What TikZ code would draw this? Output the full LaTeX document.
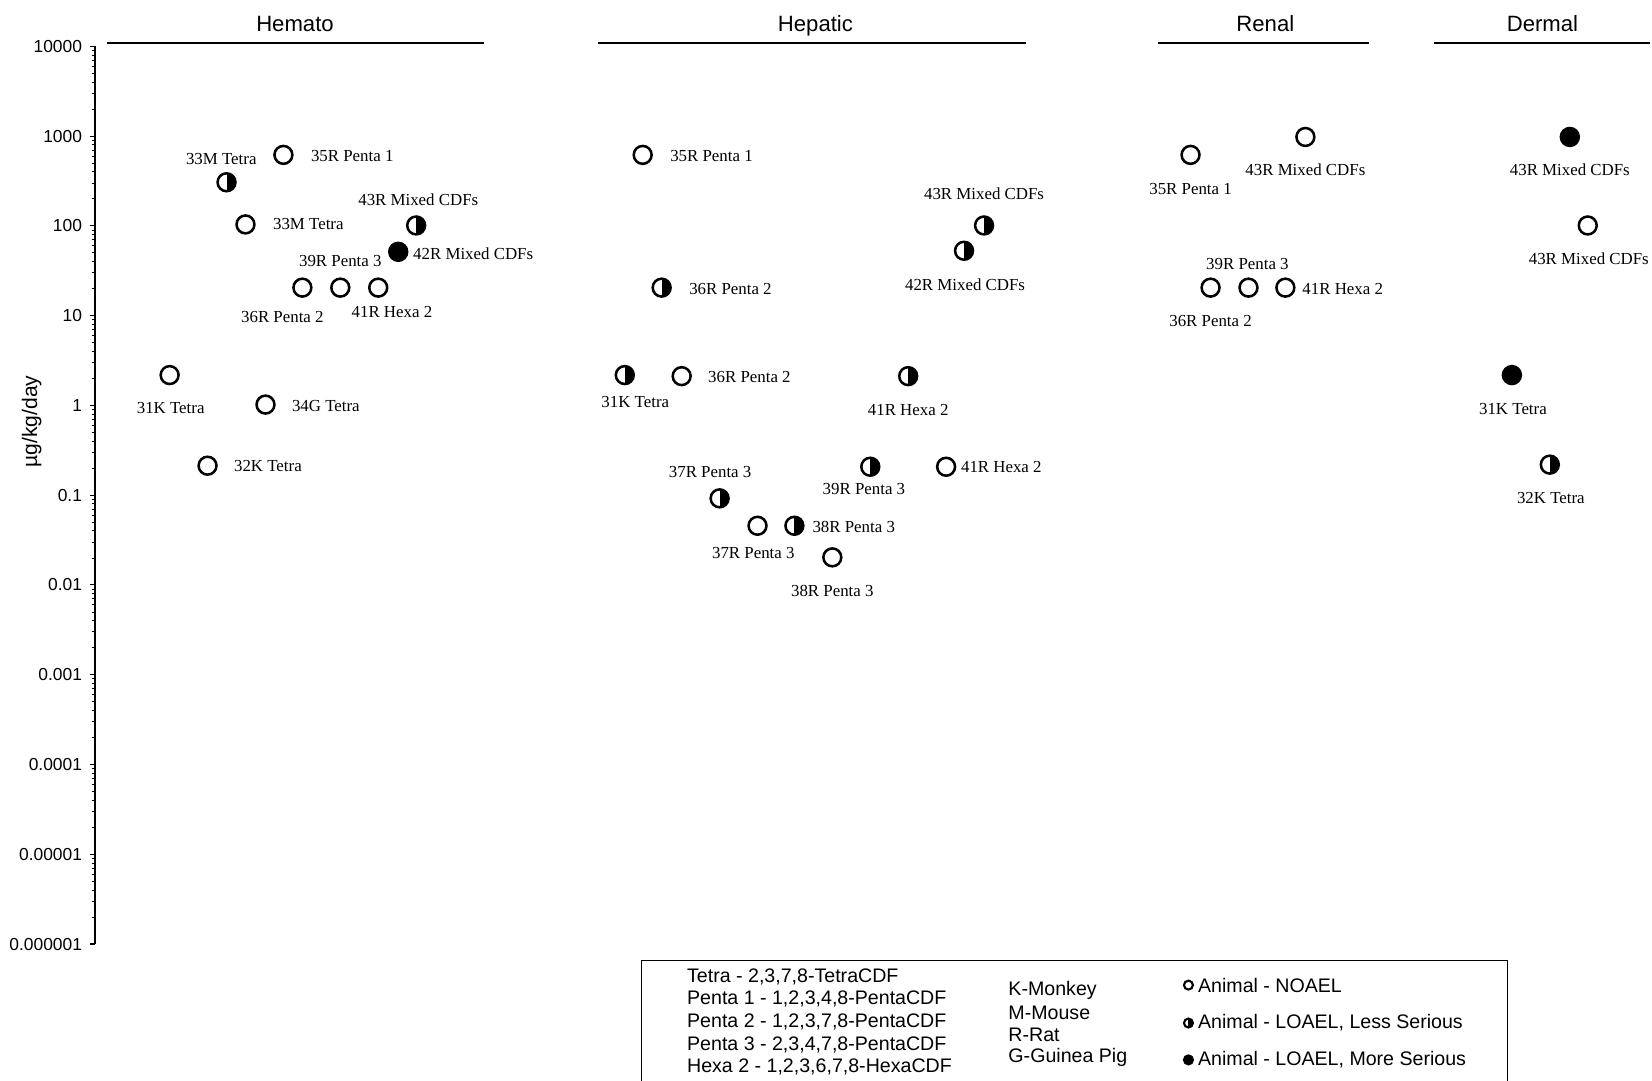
\documentclass[tikz,border=0pt]{standalone}
\usepackage{fontspec}
\setmainfont{Liberation Serif}
\newfontfamily\arialf{Liberation Sans}
\begin{document}
\begin{tikzpicture}[x=1pt,y=-1pt,
  mk/.style={circle,draw=black,line width=2.4pt,minimum size=17pt,inner sep=0pt,fill=white},
  noael/.style={mk},
  less/.style={mk,path picture={\fill[black] (path picture bounding box.north) rectangle (path picture bounding box.south east);}},
  more/.style={mk,fill=black},
  smk/.style={circle,draw=black,line width=2pt,minimum size=8.5pt,inner sep=0pt,fill=white},
  sless/.style={smk,path picture={\fill[black] (path picture bounding box.north) rectangle (path picture bounding box.south east);}},
  smore/.style={smk,fill=black},
  lbl/.style={font=\fontsize{16}{18}\selectfont,inner sep=0pt},
  rl/.style={lbl,anchor=west},
  ttl/.style={font=\arialf\fontsize{21}{23}\selectfont,inner sep=0pt,anchor=base},
  tick/.style={font=\arialf\fontsize{16.5}{18}\selectfont,inner sep=0pt,anchor=east},
  leg/.style={font=\arialf\fontsize{18.6}{20}\selectfont,inner sep=0pt,anchor=west},
  hrule/.style={line width=2pt},
]
\useasboundingbox (0,0) rectangle (1568,1026);
% axis
\coordinate (ax0) at (90,44);
\coordinate (ax1) at (90,896);
\draw[line width=1.4pt] (ax0) -- (ax1);
\foreach \i/\t in {0/10000,1/1000,2/100,3/10,4/1,5/0.1,6/0.01,7/0.001,8/0.0001,9/0.00001,10/0.000001}{
  \pgfmathsetmacro{\yy}{44+85.2*\i}
  \draw[line width=1pt] (85,\yy) -- (90,\yy);
  \node[tick] (t\i) at (78,\yy) {\t};
}
\foreach \i in {1,...,10}{
  \foreach \k in {2,...,9}{
    \pgfmathsetmacro{\yy}{44+85.2*\i-85.2*log10(\k)}
    \draw[line width=0.8pt] (87,\yy) -- (90,\yy);
  }
}
\node[font=\arialf\fontsize{20}{22}\selectfont,rotate=90,inner sep=0pt] (ylab) at (30,400) {µg/kg/day};
% headings
\node[ttl] (hemato) at (280,29.5) {Hemato};
\node[ttl] (hepatic) at (774,29.5) {Hepatic};
\node[ttl] (renal) at (1201,29.5) {Renal};
\node[ttl] (dermal) at (1464,29.5) {Dermal};
\coordinate (h1a) at (102,41); \coordinate (h1b) at (459,41);
\coordinate (h2a) at (568,41); \coordinate (h2b) at (974,41);
\coordinate (h3a) at (1099,41); \coordinate (h3b) at (1299,41);
\coordinate (h4a) at (1361,41); \coordinate (h4b) at (1566,41);
\draw[hrule] (h1a) -- (h1b);
\draw[hrule] (h2a) -- (h2b);
\draw[hrule] (h3a) -- (h3b);
\draw[hrule] (h4a) -- (h4b);
% Hemato
\node[noael] (a1) at (269,147) {}; \node[rl] (la1) at (295,148) {35R Penta 1};
\node[less] (a2) at (215,173) {}; \node[lbl] (la2) at (210,151) {33M Tetra};
\node[noael] (a3) at (233,213) {}; \node[rl] (la3) at (259,213) {33M Tetra};
\node[less] (a4) at (395,214) {}; \node[lbl] (la4) at (397,190) {43R Mixed CDFs};
\node[more] (a5) at (378,239) {}; \node[rl] (la5) at (392,241) {42R Mixed CDFs};
\node[noael] (a6) at (287,273) {}; \node[lbl] (la6) at (268,301) {36R Penta 2};
\node[noael] (a7) at (323,273) {}; \node[lbl] (la7) at (323,248) {39R Penta 3};
\node[noael] (a8) at (359,273) {}; \node[lbl] (la8) at (372,296) {41R Hexa 2};
\node[noael] (a9) at (161,356) {}; \node[lbl] (la9) at (162,387) {31K Tetra};
\node[noael] (a10) at (252,384) {}; \node[rl] (la10) at (277,385) {34G Tetra};
\node[noael] (a11) at (197,442) {}; \node[rl] (la11) at (222,442) {32K Tetra};
% Hepatic
\node[noael] (b1) at (610,147) {}; \node[rl] (lb1) at (636,148) {35R Penta 1};
\node[less] (b2) at (934,214) {}; \node[lbl] (lb2) at (934,184) {43R Mixed CDFs};
\node[less] (b3) at (915,238) {}; \node[lbl] (lb3) at (916,270) {42R Mixed CDFs};
\node[less] (b4) at (628,273) {}; \node[rl] (lb4) at (654,274) {36R Penta 2};
\node[less] (b5) at (593,356) {}; \node[lbl] (lb5) at (603,382) {31K Tetra};
\node[noael] (b6) at (647,357) {}; \node[rl] (lb6) at (672,358) {36R Penta 2};
\node[less] (b7) at (862,357) {}; \node[lbl] (lb7) at (862,389) {41R Hexa 2};
\node[less] (b8) at (826,443) {}; \node[lbl] (lb8) at (820,464) {39R Penta 3};
\node[noael] (b9) at (898,443) {}; \node[rl] (lb9) at (912,443) {41R Hexa 2};
\node[less] (b10) at (683,473) {}; \node[lbl] (lb10) at (674,448) {37R Penta 3};
\node[noael] (b11) at (719,499) {}; \node[lbl] (lb11) at (715,525) {37R Penta 3};
\node[less] (b12) at (754,499) {}; \node[rl] (lb12) at (771,500) {38R Penta 3};
\node[noael] (b13) at (790,529) {}; \node[lbl] (lb13) at (790,561) {38R Penta 3};
% Renal
\node[noael] (c1) at (1130,147) {}; \node[lbl] (lc1) at (1130,179) {35R Penta 1};
\node[noael] (c2) at (1239,130) {}; \node[lbl] (lc2) at (1239,161) {43R Mixed CDFs};
\node[noael] (c3) at (1149,273) {}; \node[lbl] (lc3) at (1149,305) {36R Penta 2};
\node[noael] (c4) at (1185,273) {}; \node[lbl] (lc4) at (1184,251) {39R Penta 3};
\node[noael] (c5) at (1220,273) {}; \node[rl] (lc5) at (1236,274) {41R Hexa 2};
% Dermal
\node[more] (d1) at (1490,130) {}; \node[lbl] (ld1) at (1490,161) {43R Mixed CDFs};
\node[noael] (d2) at (1507,214) {}; \node[lbl] (ld2) at (1508,246) {43R Mixed CDFs};
\node[more] (d3) at (1435,356) {}; \node[lbl] (ld3) at (1436,388) {31K Tetra};
\node[less] (d4) at (1471,441) {}; \node[lbl] (ld4) at (1472,473) {32K Tetra};
% legend
\coordinate (L1) at (609,1026); \coordinate (L2) at (609,912);
\coordinate (L3) at (1431,912); \coordinate (L4) at (1431,1026);
\draw[line width=1pt] (L1) -- (L2) -- (L3) -- (L4);
\node[leg] (g1) at (652,927) {Tetra - 2,3,7,8-TetraCDF};
\node[leg] (g2) at (652,948.5) {Penta 1 - 1,2,3,4,8-PentaCDF};
\node[leg] (g3) at (652,970) {Penta 2 - 1,2,3,7,8-PentaCDF};
\node[leg] (g4) at (652,991.5) {Penta 3 - 2,3,4,7,8-PentaCDF};
\node[leg] (g5) at (652,1013) {Hexa 2 - 1,2,3,6,7,8-HexaCDF};
\node[leg] (s1) at (957,940) {K-Monkey};
\node[leg] (s2) at (957,961) {M-Mouse};
\node[leg] (s3) at (957,982) {R-Rat};
\node[leg] (s4) at (957,1004) {G-Guinea Pig};
\node[smk] (m1) at (1128,935) {}; \node[leg] (e1) at (1137,935) {Animal - NOAEL};
\node[sless] (m2) at (1128,971) {}; \node[leg] (e2) at (1137,971) {Animal - LOAEL, Less Serious};
\node[smore] (m3) at (1128,1006) {}; \node[leg] (e3) at (1137,1006) {Animal - LOAEL, More Serious};
\end{tikzpicture}
\end{document}
